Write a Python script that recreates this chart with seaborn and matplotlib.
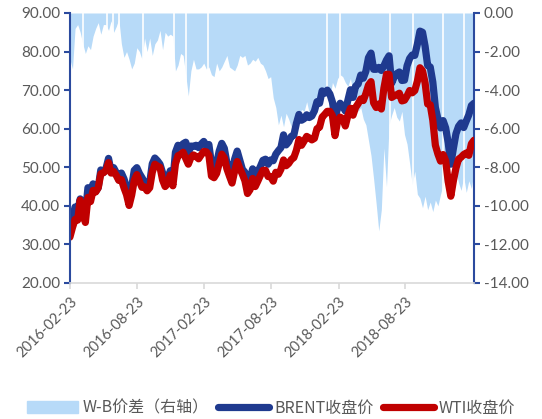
import numpy as np
import pandas as pd
import matplotlib
matplotlib.use('Agg')
import matplotlib.pyplot as plt
import seaborn as sns
from matplotlib.ticker import FormatStrFormatter
from matplotlib.patches import Patch
from matplotlib.lines import Line2D

# 周度数据，2016-02-23 起
dates = pd.date_range('2016-02-23', periods=158, freq='7D')

brent = [33.3, 36.8, 39.7, 38.7, 41.8, 38.3, 37.9, 44.7, 44.0, 45.7,
         43.7, 44.7, 49.3, 48.6, 49.7, 52.3, 49.0, 49.9, 48.6, 46.8,
         48.5, 47.0, 44.9, 42.1, 44.9, 49.2, 49.9, 48.4, 47.3, 46.1,
         45.9, 46.0, 50.9, 52.4, 51.7, 50.8, 48.6, 46.0, 46.9, 49.1,
         46.4, 53.9, 55.7, 55.4, 56.1, 56.5, 53.6, 55.5, 55.4, 55.7,
         55.1, 56.0, 56.7, 55.6, 55.9, 50.9, 50.6, 51.0, 54.2, 56.2,
         54.9, 51.1, 50.5, 48.7, 52.1, 54.2, 51.8, 49.5, 48.7, 46.0,
         47.0, 49.6, 47.5, 48.8, 50.2, 51.8, 52.1, 50.8, 51.9, 51.7,
         53.4, 54.3, 55.1, 58.4, 55.8, 56.6, 58.0, 58.3, 61.4, 63.7,
         62.2, 62.6, 63.6, 62.9, 63.3, 64.6, 67.0, 66.6, 69.8, 69.2,
         70.0, 69.0, 66.9, 62.7, 65.3, 66.6, 65.8, 64.6, 67.4, 70.1,
         68.1, 71.0, 71.6, 73.9, 73.1, 74.9, 78.4, 79.6, 75.4, 75.4,
         75.9, 75.1, 76.3, 77.8, 78.9, 71.8, 73.4, 74.3, 74.7, 72.5,
         72.6, 76.3, 78.2, 79.1, 79.0, 81.9, 85.3, 85.0, 81.4, 76.4,
         76.0, 72.1, 65.5, 62.5, 60.2, 62.1, 60.2, 56.3, 50.8, 54.9,
         58.7, 60.6, 61.5, 60.3, 62.0, 63.6, 66.0, 66.6]

wti = [31.9, 34.4, 36.5, 36.3, 41.5, 38.3, 35.7, 42.2, 41.1, 44.0,
       43.6, 44.7, 48.3, 48.6, 49.1, 51.2, 48.5, 48.9, 47.9, 46.6,
       46.8, 44.7, 42.9, 40.1, 42.8, 46.6, 48.1, 46.4, 44.8, 44.9,
       43.9, 44.7, 48.7, 50.8, 50.3, 50.0, 46.7, 45.0, 45.8, 48.0,
       45.2, 50.9, 53.0, 53.3, 53.9, 52.3, 50.8, 52.5, 53.2, 52.8,
       52.2, 53.2, 54.1, 54.0, 53.1, 47.7, 47.3, 48.4, 51.0, 53.4,
       52.4, 49.6, 47.7, 45.9, 49.0, 51.5, 49.7, 48.2, 46.5, 43.2,
       44.2, 47.1, 45.0, 46.4, 47.9, 49.2, 49.2, 47.6, 47.6, 46.4,
       48.7, 48.2, 49.5, 51.9, 50.4, 51.0, 52.0, 52.5, 54.4, 57.2,
       55.7, 56.8, 58.0, 57.6, 57.1, 57.5, 60.0, 60.4, 63.0, 63.7,
       64.5, 64.5, 63.4, 58.2, 61.9, 63.0, 62.6, 60.7, 63.4, 65.3,
       63.5, 65.5, 66.5, 67.7, 67.3, 69.1, 71.3, 72.2, 66.7, 65.5,
       66.4, 65.1, 70.5, 74.1, 74.1, 68.1, 68.5, 68.8, 69.2, 67.2,
       67.4, 68.5, 69.9, 69.3, 69.9, 72.3, 75.8, 75.0, 71.9, 66.4,
       66.2, 62.2, 55.7, 53.4, 51.6, 53.3, 51.7, 46.2, 42.5, 46.5,
       49.8, 52.1, 52.6, 53.3, 53.7, 53.1, 56.1, 57.0]

spread = [-2.4, -2.9, -0.8, -0.6, -1.0, -1.6, -2.1, -1.7, -1.9, -1.2,
          -0.8, -0.5, -1.1, -0.6, -0.6, -0.9, -0.4, -1.0, -0.7, -0.3,
          -1.6, -2.3, -2.0, -2.4, -2.9, -2.6, -1.8, -2.0, -2.4, -1.3,
          -2.0, -1.3, -2.2, -1.6, -1.4, -0.9, -1.9, -1.0, -1.2, -1.1,
          -1.2, -3.0, -2.7, -2.1, -2.2, -3.2, -4.3, -3.0, -2.4, -2.9,
          -2.9, -2.8, -2.6,
          -2.9, -2.8, -3.2, -3.3, -2.6, -3.0, -2.8, -2.5, -2.2, -2.8,
          -2.9, -3.0, -2.7, -2.2, -2.3, -2.2, -2.7, -2.6, -2.4, -2.5,
          -2.3, -2.6, -2.7,
          -3.0, -3.4, -3.3, -4.4, -4.9, -5.8, -5.3, -5.9, -5.2, -5.5,
          -5.9, -5.4, -6.1, -5.3, -5.0, -5.1, -4.6, -5.2, -4.9, -5.1,
          -4.5, -4.2, -4.6, -4.0, -3.9, -4.4, -3.6, -3.9, -3.4, -3.2,
          -3.3, -3.6, -3.8, -3.4, -4.1, -4.6, -5.1, -4.9, -5.5, -5.8,
          -6.6, -7.4, -8.6, -9.9, -11.3, -10.2, -7.0, -9.0, -5.8, -5.3,
          -4.9, -5.4, -5.6, -5.1, -6.3, -6.8,
          -7.8, -8.9, -8.2, -9.4, -9.6, -10.1, -9.5, -10.2, -9.8, -10.3,
          -9.7, -10.0, -9.4, -8.9, -8.3, -7.4, -7.8, -8.6, -8.2, -8.8,
          -9.2, -8.5, -9.3, -8.7, -9.1, -8.2]

# 价差为0的日期（节假日），图上是白色竖线
gap_dates = ['2016-03-29', '2016-06-02', '2016-06-19', '2016-07-06',
             '2016-09-08', '2016-12-03', '2017-01-03', '2017-03-05',
             '2018-01-22', '2018-02-27', '2018-07-13', '2018-09-13',
             '2018-12-04', '2019-01-31']

xtick_labels = ['2016-02-23', '2016-08-23', '2017-02-23',
                '2017-08-23', '2018-02-23', '2018-08-23']

df = pd.DataFrame({'date': dates, 'BRENT收盘价': brent,
                   'WTI收盘价': wti, 'W-B价差（右轴）': spread})

sns.set_style('white')
plt.rcParams['font.family'] = ['Lato', 'Noto Sans CJK SC', 'DejaVu Sans']

c_area = '#B7DAF8'
c_brent = '#1F3A8F'
c_wti = '#C00000'
c_axis = '#2B4A9E'
c_text = '#595959'
lw = 5.2

fig = plt.figure(figsize=(5.42, 4.19), dpi=100)
ax = fig.add_axes([0.129, 0.3246, 0.7455, 0.6444])
ax2 = ax.twinx()

# 价差面积（右轴）
ax2.fill_between(df['date'], df['W-B价差（右轴）'], 0, color=c_area, lw=0)
for d in gap_dates:
    ax2.axvline(pd.Timestamp(d), color='white', lw=1.2)
ax2.set_ylim(-14, 0)
ax2.set_yticks(np.arange(-14, 0.1, 2))
ax2.yaxis.set_major_formatter(FormatStrFormatter('%.2f'))

# 价格线（左轴）
sns.lineplot(data=df, x='date', y='BRENT收盘价', ax=ax, color=c_brent,
             lw=lw, solid_joinstyle='round', solid_capstyle='round')
sns.lineplot(data=df, x='date', y='WTI收盘价', ax=ax, color=c_wti,
             lw=lw, solid_joinstyle='round', solid_capstyle='round')
ax.set_ylim(20, 90)
ax.set_yticks(np.arange(20, 91, 10))
ax.yaxis.set_major_formatter(FormatStrFormatter('%.2f'))
ax.set_xlim(dates[0], dates[-1])
ax.set_xlabel('')
ax.set_ylabel('')

ax.set_zorder(ax2.get_zorder() + 1)
ax.patch.set_visible(False)

ax.set_xticks([pd.Timestamp(t) for t in xtick_labels])
ax.set_xticklabels(xtick_labels, rotation=45, ha='right',
                   rotation_mode='anchor', fontsize=10.5, color=c_text)

for a in (ax, ax2):
    a.spines['top'].set_visible(False)
ax.spines['right'].set_visible(False)
ax2.spines['left'].set_visible(False)
ax2.spines['bottom'].set_visible(False)
ax.spines['left'].set_color(c_axis)
ax.spines['left'].set_linewidth(1.5)
ax2.spines['right'].set_color(c_axis)
ax2.spines['right'].set_linewidth(1.5)
ax.spines['bottom'].set_color('#D9D9D9')
ax.spines['bottom'].set_linewidth(1.2)

ax.tick_params(axis='y', direction='out', length=4, width=1.5, color=c_axis,
               labelcolor=c_text, labelsize=11, pad=3, left=True)
ax2.tick_params(axis='y', direction='out', length=4, width=1.5, color=c_axis,
                labelcolor=c_text, labelsize=11, pad=3, right=True)
ax.tick_params(axis='x', direction='out', length=4, width=1.2, color='#D9D9D9',
               pad=4, bottom=True)

handles = [Patch(color=c_area, label='W-B价差（右轴）'),
           Line2D([], [], color=c_brent, lw=lw, solid_capstyle='round',
                  label='BRENT收盘价'),
           Line2D([], [], color=c_wti, lw=lw, solid_capstyle='round',
                  label='WTI收盘价')]
fig.legend(handles=handles, loc='center', bbox_to_anchor=(0.5, 0.026),
           ncol=3, frameon=False, handlelength=3.2, handletextpad=0.3,
           columnspacing=0.6, prop={'family': ['Noto Sans CJK SC'], 'size': 11.5},
           labelcolor=c_text)

fig.savefig('out.png', dpi=100)
